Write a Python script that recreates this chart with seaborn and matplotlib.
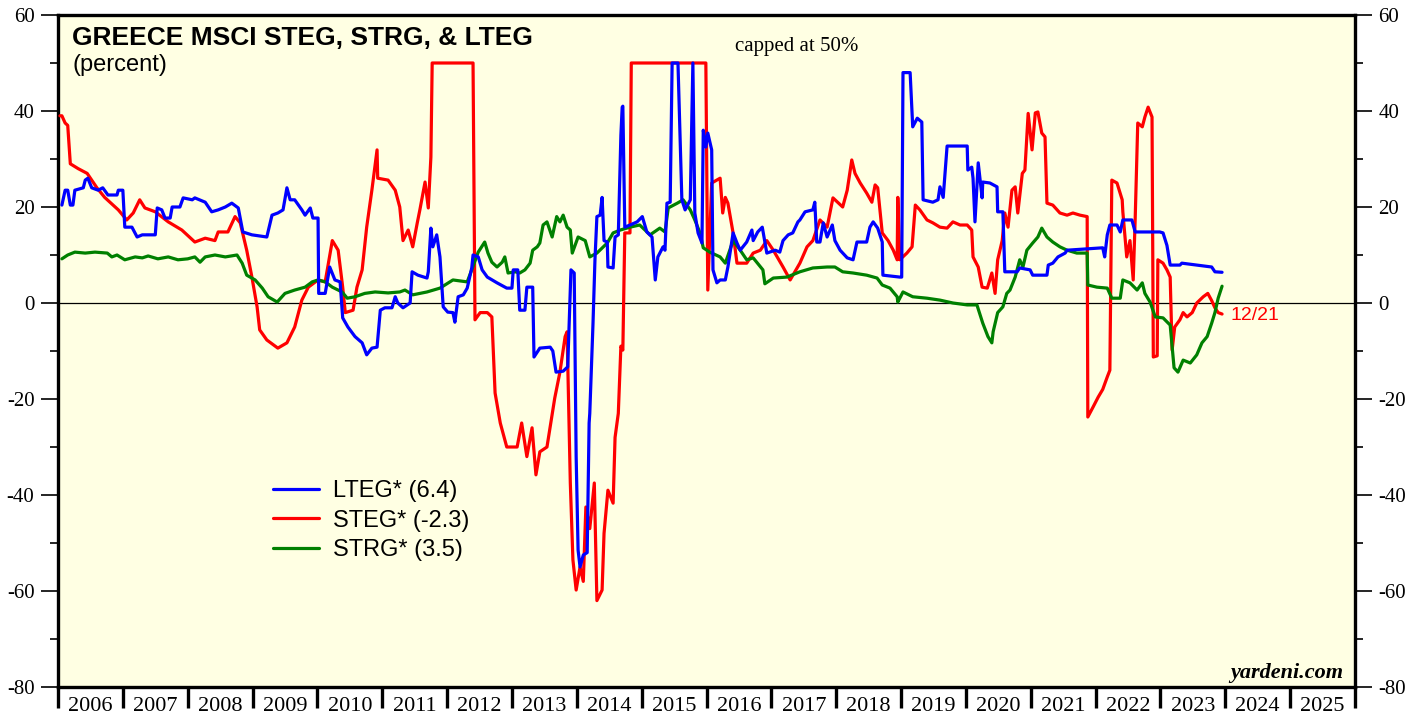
import numpy as np
import pandas as pd
import matplotlib
matplotlib.use("Agg")
import matplotlib.pyplot as plt
import seaborn as sns
from matplotlib.ticker import FixedLocator, NullFormatter, MultipleLocator
from matplotlib.lines import Line2D

# ---------------- data (decimal years, percent) ----------------
steg_t = [2006.03, 2006.06, 2006.11, 2006.15, 2006.19, 2006.31, 2006.45, 2006.52, 2006.60, 2006.72,
          2006.93, 2007.06, 2007.16, 2007.26, 2007.34, 2007.50, 2007.70, 2007.91, 2008.11, 2008.27,
          2008.42, 2008.47, 2008.62, 2008.73, 2008.81, 2008.91, 2008.99, 2009.07, 2009.11, 2009.22,
          2009.39, 2009.53, 2009.65, 2009.76, 2009.86, 2010.01, 2010.12, 2010.23, 2010.32, 2010.39,
          2010.43, 2010.55, 2010.61, 2010.69, 2010.76, 2010.84, 2010.92, 2010.93, 2011.09, 2011.20,
          2011.27, 2011.32, 2011.40, 2011.47, 2011.54, 2011.58, 2011.66, 2011.71, 2011.75, 2011.77,
          2012.40, 2012.43, 2012.51, 2012.62, 2012.69, 2012.74, 2012.82, 2012.92, 2013.08, 2013.15,
          2013.23, 2013.31, 2013.37, 2013.43, 2013.54, 2013.59, 2013.66, 2013.74, 2013.82, 2013.85,
          2013.90, 2013.94, 2013.99, 2014.05, 2014.10, 2014.14, 2014.20, 2014.27, 2014.31, 2014.39,
          2014.42, 2014.48, 2014.56, 2014.59, 2014.64, 2014.68, 2014.71, 2014.74, 2014.82, 2014.84,
          2015.99, 2016.02, 2016.08, 2016.21, 2016.25, 2016.29, 2016.33, 2016.41, 2016.47, 2016.62,
          2016.72, 2016.83, 2016.93, 2017.03, 2017.18, 2017.29, 2017.44, 2017.55, 2017.64, 2017.75,
          2017.86, 2017.95, 2018.10, 2018.17, 2018.24, 2018.29, 2018.37, 2018.47, 2018.55, 2018.60,
          2018.64, 2018.71, 2018.80, 2018.88, 2018.94, 2018.95, 2018.98, 2019.09, 2019.17, 2019.22,
          2019.29, 2019.40, 2019.49, 2019.60, 2019.71, 2019.80, 2019.91, 2020.02, 2020.09, 2020.11,
          2020.19, 2020.25, 2020.33, 2020.40, 2020.45, 2020.49, 2020.56, 2020.60, 2020.65, 2020.71,
          2020.76, 2020.80, 2020.87, 2020.91, 2020.96, 2021.02, 2021.07, 2021.11, 2021.17, 2021.22,
          2021.25, 2021.34, 2021.45, 2021.56, 2021.65, 2021.76, 2021.87, 2021.88, 2021.96, 2022.04,
          2022.11, 2022.18, 2022.22, 2022.25, 2022.33, 2022.41, 2022.42, 2022.48, 2022.53, 2022.58,
          2022.61, 2022.65, 2022.72, 2022.76, 2022.81, 2022.87, 2022.89, 2022.95, 2022.96, 2023.04,
          2023.10, 2023.15, 2023.18, 2023.22, 2023.30, 2023.35, 2023.41, 2023.49, 2023.56, 2023.66,
          2023.73, 2023.79, 2023.84, 2023.89, 2023.95]
steg_v = [39, 39, 37.5, 37, 29, 28, 27, 25.6, 24, 22,
          19.4, 17.3, 18.75, 21.5, 19.8, 19, 16.9, 15.2, 12.7, 13.5,
          13, 14.8, 14.8, 18, 16.7, 11, 5.4, -0.8, -5.6, -7.7,
          -9.4, -8.3, -5, 0.6, 3.3, 4.8, 4.4, 13, 11, 3.3,
          -2, -1.5, 3.3, 6.9, 15.8, 23.5, 31.9, 26, 25.6, 23.5,
          20, 13, 15.2, 11.7, 16.7, 19.4, 25.2, 19.8, 30.4, 50,
          50, -3.5, -2, -2, -2.9, -18.75, -25, -30, -30, -25,
          -32, -26, -35.8, -31, -30, -25.8, -19.8, -14.4, -7, -6,
          -37.5, -53.5, -59.8, -55, -58, -42.5, -47, -37.5, -62, -59.8,
          -48, -39, -41.7, -28, -23, -9, -9.8, 14.6, 14.6, 50,
          50, 2.7, 25, 26, 18.75, 22, 20.8, 14.6, 8.3, 8.3,
          10.4, 11, 13, 11, 7.5, 4.8, 8.3, 11.7, 13, 17.3,
          15.8, 21.9, 20, 23.5, 29.8, 27, 25, 22.9, 21, 24.6,
          24, 14.6, 13, 11, 9, 22, 9, 10.4, 11.7, 20.4,
          19.4, 17.3, 16.7, 15.8, 15.6, 16.9, 16.25, 16.25, 15.2, 9.6,
          7.5, 3.3, 3.1, 6.25, 2, 9, 13, 18.75, 15.8, 23.5,
          24.2, 18.75, 27, 27.7, 39.5, 31.9, 39.6, 39.8, 35.4, 34.6,
          20.8, 20.4, 18.75, 18.3, 18.75, 18.3, 18, -23.75, -21.7, -19.6,
          -18, -15.4, -14, 25.6, 25, 21.5, 19, 9.6, 13, 4.8,
          17.3, 37.5, 36.7, 38.75, 40.8, 38.75, -11.25, -11, 9, 8.3,
          6.9, 5.4, -9.8, -5, -3.5, -2, -2.9, -2, 0, 1.3,
          2, 0.5, -1, -2, -2.3]

lteg_t = [2006.06, 2006.11, 2006.15, 2006.19, 2006.23, 2006.26, 2006.39, 2006.42, 2006.46, 2006.52,
          2006.62, 2006.69, 2006.77, 2006.91, 2006.93, 2007.00, 2007.03, 2007.14, 2007.22, 2007.30,
          2007.50, 2007.53, 2007.60, 2007.65, 2007.73, 2007.76, 2007.88, 2007.93, 2008.07, 2008.11,
          2008.27, 2008.37, 2008.47, 2008.58, 2008.68, 2008.78, 2008.85, 2008.99, 2009.22, 2009.30,
          2009.39, 2009.47, 2009.53, 2009.58, 2009.65, 2009.76, 2009.81, 2009.89, 2009.93, 2010.01,
          2010.02, 2010.12, 2010.19, 2010.27, 2010.35, 2010.39, 2010.47, 2010.58, 2010.69, 2010.76,
          2010.84, 2010.92, 2010.97, 2011.04, 2011.15, 2011.20, 2011.24, 2011.32, 2011.43, 2011.46,
          2011.55, 2011.69, 2011.71, 2011.75, 2011.78, 2011.84, 2011.89, 2011.94, 2012.01, 2012.09,
          2012.12, 2012.17, 2012.25, 2012.31, 2012.38, 2012.40, 2012.48, 2012.54, 2012.62, 2012.77,
          2012.92, 2013.00, 2013.02, 2013.09, 2013.12, 2013.20, 2013.23, 2013.32, 2013.34, 2013.43,
          2013.59, 2013.63, 2013.68, 2013.79, 2013.86, 2013.91, 2013.96, 2013.99, 2014.02, 2014.05,
          2014.10, 2014.16, 2014.19, 2014.20, 2014.25, 2014.28, 2014.31, 2014.36, 2014.39, 2014.42,
          2014.47, 2014.48, 2014.56, 2014.59, 2014.64, 2014.68, 2014.70, 2014.71, 2014.74, 2014.82,
          2014.93, 2015.01, 2015.08, 2015.16, 2015.21, 2015.25, 2015.33, 2015.36, 2015.39, 2015.44,
          2015.47, 2015.56, 2015.62, 2015.67, 2015.75, 2015.79, 2015.82, 2015.87, 2015.93, 2015.95,
          2015.99, 2016.02, 2016.08, 2016.10, 2016.16, 2016.21, 2016.29, 2016.33, 2016.41, 2016.47,
          2016.52, 2016.62, 2016.70, 2016.72, 2016.79, 2016.86, 2016.93, 2017.06, 2017.13, 2017.18,
          2017.26, 2017.33, 2017.41, 2017.44, 2017.52, 2017.64, 2017.67, 2017.70, 2017.75, 2017.80,
          2017.86, 2017.94, 2017.98, 2018.06, 2018.17, 2018.26, 2018.32, 2018.47, 2018.52, 2018.57,
          2018.64, 2018.71, 2018.72, 2018.98, 2019.01, 2019.03, 2019.14, 2019.18, 2019.25, 2019.32,
          2019.34, 2019.49, 2019.57, 2019.60, 2019.65, 2019.71, 2020.02, 2020.03, 2020.09, 2020.11,
          2020.14, 2020.19, 2020.25, 2020.26, 2020.37, 2020.48, 2020.49, 2020.57, 2020.60, 2020.79,
          2020.83, 2020.99, 2021.03, 2021.25, 2021.27, 2021.34, 2021.42, 2021.53, 2021.56, 2022.11,
          2022.14, 2022.18, 2022.22, 2022.33, 2022.38, 2022.42, 2022.56, 2022.61, 2022.99, 2023.04,
          2023.10, 2023.15, 2023.30, 2023.33, 2023.79, 2023.84, 2023.95]
lteg_v = [20.4, 23.5, 23.5, 20.4, 20.4, 23.5, 24, 25.6, 26, 24,
          23.5, 24, 22.5, 22.5, 23.5, 23.5, 15.8, 15.8, 13.75, 14.2,
          14.2, 19.8, 19.4, 17.7, 17.7, 20, 20, 21.9, 21.5, 21.9,
          21, 19, 19.4, 20, 20.8, 19.8, 14.8, 14.2, 13.75, 18.3,
          18.75, 19.4, 24, 21.5, 21.5, 19.4, 18.3, 19.8, 17.7, 17.7,
          2, 2, 7.5, 4.8, 4.4, -3.1, -5, -7, -8.3, -10.8,
          -9.4, -9.2, -1.5, -1, -1, 1.3, 0, -1, 0, 6.5,
          5.8, 5.2, 6.5, 15.6, 11.7, 14.2, 9.6, -0.8, -1.9, -2,
          -4, 1.3, 1.7, 3.1, 7.3, 10, 9.6, 6.9, 5.4, 4.2,
          3.1, 3.1, 6.9, 6.9, -1.5, -1.5, 3.3, 3.3, -11.25, -9.4,
          -9.2, -10, -14.4, -14.2, -13.3, 6.9, 6.25, -32, -51.5, -55,
          -52.5, -52, -25, -23, -4.2, 9, 18, 18.3, 22, 13,
          12.7, 7.5, 7.3, 13.75, 14.2, 35, 40.8, 41, 15.8, 16.25,
          16.9, 18, 14.8, 13.75, 4.8, 9.6, 11.7, 11, 20.8, 21,
          50, 50, 21.5, 19.4, 21.5, 50, 18.75, 14.6, 12.5, 36,
          32.5, 35.4, 31.9, 6.9, 4.2, 4.8, 4.8, 7.5, 14.6, 12.5,
          11, 12.7, 15.2, 13, 14.8, 15.8, 10.4, 11, 10.6, 13,
          14.2, 14.6, 16.9, 17.3, 19, 19.4, 21, 12.7, 12.7, 16.7,
          13.75, 16.25, 13, 11, 9.4, 9, 12.7, 12.7, 15.8, 16.9,
          15.6, 12.7, 5.8, 5.4, 5.4, 48, 48, 36.7, 38.5, 37.7,
          21.5, 21, 21.5, 24.2, 22, 32.7, 32.7, 27.7, 28.3, 26,
          16.9, 29.2, 21.9, 25.2, 25, 24.2, 19, 19, 6.5, 6.5,
          7.3, 6.9, 5.8, 5.8, 7.9, 8.3, 9.6, 10.4, 11, 11.5,
          9.6, 14.2, 16.25, 16.25, 14.8, 17.3, 17.3, 14.8, 14.8, 14.6,
          12, 7.9, 7.9, 8.3, 7.5, 6.5, 6.4]

strg_t = [2006.06, 2006.15, 2006.26, 2006.42, 2006.57, 2006.76, 2006.83, 2006.91, 2007.03, 2007.19,
          2007.30, 2007.39, 2007.54, 2007.70, 2007.85, 2008.00, 2008.11, 2008.19, 2008.27, 2008.42,
          2008.58, 2008.76, 2008.84, 2008.91, 2009.04, 2009.15, 2009.24, 2009.38, 2009.50, 2009.65,
          2009.81, 2009.92, 2010.01, 2010.12, 2010.23, 2010.38, 2010.46, 2010.58, 2010.73, 2010.89,
          2011.09, 2011.27, 2011.35, 2011.47, 2011.69, 2011.89, 2012.09, 2012.31, 2012.38, 2012.48,
          2012.58, 2012.63, 2012.69, 2012.77, 2012.85, 2012.89, 2012.94, 2013.05, 2013.12, 2013.20,
          2013.28, 2013.32, 2013.39, 2013.43, 2013.48, 2013.54, 2013.62, 2013.69, 2013.74, 2013.79,
          2013.85, 2013.90, 2013.93, 2014.02, 2014.13, 2014.20, 2014.31, 2014.47, 2014.56, 2014.67,
          2014.82, 2014.97, 2015.13, 2015.28, 2015.36, 2015.41, 2015.55, 2015.64, 2015.75, 2015.82,
          2015.90, 2015.95, 2016.05, 2016.21, 2016.29, 2016.41, 2016.52, 2016.62, 2016.72, 2016.87,
          2016.90, 2017.03, 2017.24, 2017.44, 2017.64, 2017.86, 2017.98, 2018.10, 2018.26, 2018.47,
          2018.63, 2018.71, 2018.83, 2018.94, 2018.95, 2019.03, 2019.18, 2019.40, 2019.60, 2019.80,
          2020.02, 2020.17, 2020.26, 2020.34, 2020.40, 2020.42, 2020.49, 2020.57, 2020.63, 2020.68,
          2020.76, 2020.83, 2020.88, 2020.94, 2021.03, 2021.11, 2021.17, 2021.25, 2021.34, 2021.45,
          2021.56, 2021.71, 2021.87, 2021.88, 2022.02, 2022.18, 2022.25, 2022.38, 2022.42, 2022.53,
          2022.64, 2022.72, 2022.76, 2022.84, 2022.92, 2023.04, 2023.15, 2023.21, 2023.27, 2023.35,
          2023.46, 2023.56, 2023.64, 2023.72, 2023.79, 2023.84, 2023.89, 2023.95]
strg_v = [9.2, 10, 10.6, 10.4, 10.6, 10.4, 9.6, 10, 9, 9.6,
          9.4, 9.8, 9.2, 9.6, 9, 9.2, 9.6, 8.5, 9.6, 10,
          9.6, 10, 8.3, 5.8, 4.8, 3.1, 1.3, 0.2, 2, 2.7,
          3.3, 4.4, 4.8, 4.4, 3.3, 2.3, 1, 1.3, 2, 2.3,
          2.1, 2.3, 2.7, 1.7, 2.3, 3.1, 4.8, 4.4, 6.9, 10.6,
          12.7, 10.4, 8.5, 7.5, 8.5, 9.6, 6.25, 6.5, 6.25, 6.9,
          8.3, 11, 11.7, 12.5, 16.25, 16.9, 13.75, 18, 16.9, 18.3,
          15.8, 15.2, 10.4, 13.75, 13, 9.6, 10.4, 12.5, 14.6, 15.2,
          15.8, 16.25, 14.2, 15.6, 14.8, 19.8, 20.8, 21.5, 19.4, 17.3,
          14.6, 11.5, 10.6, 9.6, 8.3, 13, 11, 9, 9.4, 6.9,
          4, 5.2, 5.4, 6.5, 7.3, 7.5, 7.5, 6.5, 6.25, 5.8,
          5.2, 3.75, 3.1, 1.3, 0.2, 2.3, 1.3, 1, 0.6, 0,
          -0.4, -0.4, -4.2, -7, -8.3, -6, -2, -0.8, 2, 2.7,
          5.4, 9, 7.5, 11, 12.5, 13.75, 15.6, 13.75, 12.7, 11.7,
          11, 10.4, 10.4, 3.75, 3.3, 3.1, 1, 1, 4.8, 4.2,
          2.7, 4.2, 2, 0.2, -2.9, -3.1, -4.6, -13.5, -14.4, -11.9,
          -12.5, -10.8, -8.3, -7, -4.2, -2, 1, 3.5]

series_names = ["LTEG* (6.4)", "STEG* (-2.3)", "STRG* (3.5)"]
year_labels = [str(y) for y in range(2006, 2026)]
y_ticks = [-80, -60, -40, -20, 0, 20, 40, 60]

# ---------------- figure ----------------
sns.set_theme(style="white")
plt.rcParams['font.family'] = ['Liberation Sans', 'DejaVu Sans']
plt.rcParams['text.color'] = 'black'
plt.rcParams['xtick.color'] = 'black'
plt.rcParams['ytick.color'] = 'black'

W, H = 1419, 719
fig = plt.figure(figsize=(W / 100, H / 100), dpi=100)
ax = fig.add_axes([58 / W, 1 - 687 / H, (1355 - 58) / W, (687 - 15) / H])
ax.set_facecolor('#FFFFE3')

BLUE, RED, GREEN = '#0000FF', '#FF0000', '#008000'
LW = 2.3

df_steg = pd.DataFrame({"t": steg_t, "v": steg_v})
df_lteg = pd.DataFrame({"t": lteg_t, "v": lteg_v})
df_strg = pd.DataFrame({"t": strg_t, "v": strg_v})

ax.axhline(0, color='black', lw=0.9, zorder=1)
sns.lineplot(data=df_steg, x="t", y="v", estimator=None, sort=False, color=RED, lw=LW, ax=ax, zorder=3)
sns.lineplot(data=df_strg, x="t", y="v", estimator=None, sort=False, color=GREEN, lw=LW, ax=ax, zorder=3)
sns.lineplot(data=df_lteg, x="t", y="v", estimator=None, sort=False, color=BLUE, lw=LW, ax=ax, zorder=4)

ax.set_xlim(2006, 2026)
ax.set_ylim(-80, 60)
ax.set_xlabel("")
ax.set_ylabel("")

# spines
for s in ax.spines.values():
    s.set_visible(True)
    s.set_color('black')
    s.set_linewidth(2.4)

# y ticks both sides
ax.yaxis.set_major_locator(FixedLocator(y_ticks))
ax.yaxis.set_minor_locator(MultipleLocator(10))
ax.tick_params(axis='y', which='major', left=True, right=True, labelleft=True, labelright=True,
               direction='out', length=12, width=1.2, pad=5, labelsize=15, colors='black')
ax.tick_params(axis='y', which='minor', left=True, right=True, direction='out', length=6, width=1.2)
ax.set_yticklabels([str(v) for v in y_ticks], family='Liberation Serif')

# x ticks: boundaries as major (no labels), centres as minor (labels)
ax.xaxis.set_major_locator(FixedLocator(list(range(2006, 2027))))
ax.xaxis.set_major_formatter(NullFormatter())
ax.xaxis.set_minor_locator(FixedLocator([y + 0.5 for y in range(2006, 2026)]))
ax.set_xticklabels(year_labels, minor=True, family='Liberation Serif')
ax.tick_params(axis='x', which='major', bottom=True, direction='out', length=15, width=2.4)
ax.tick_params(axis='x', which='minor', bottom=True, length=0, pad=7, labelsize=16, colors='black')
ax.grid(False)

# legend
handles = [Line2D([], [], color=BLUE, lw=LW), Line2D([], [], color=RED, lw=LW),
           Line2D([], [], color=GREEN, lw=LW)]
ax.legend(handles, series_names, loc='upper left', bbox_to_anchor=(273 / W, 1 - 480 / H),
          bbox_transform=fig.transFigure, frameon=False, fontsize=17, handlelength=1.95,
          handletextpad=0.6, labelspacing=0.32, borderpad=0, borderaxespad=0)

# texts
fig.text(72 / W, 1 - 45 / H, "GREECE MSCI STEG, STRG, & LTEG", fontsize=19, fontweight='bold',
         va='baseline', ha='left')
fig.text(72 / W, 1 - 71 / H, "(percent)", fontsize=17, va='baseline', ha='left')
fig.text(735 / W, 1 - 51 / H, "capped at 50%", fontsize=15, family='Liberation Serif',
         va='baseline', ha='left')
fig.text(1343 / W, 1 - 678 / H, "yardeni.com", fontsize=16, family='Liberation Serif',
         fontweight='bold', style='italic', va='baseline', ha='right')
fig.text(1230 / W, 1 - 315 / H, "12/21", fontsize=14, color=RED, va='center', ha='left')

fig.savefig("out.png", dpi=100)
